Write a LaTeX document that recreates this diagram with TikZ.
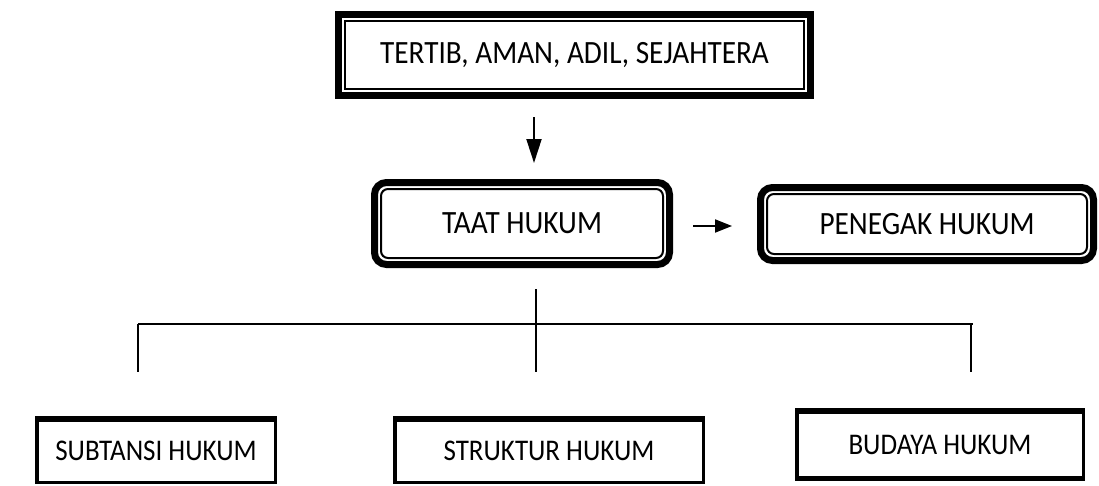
\documentclass[tikz,border=0pt]{standalone}
\usepackage{fontspec}
\setmainfont{Carlito}
\newfontfamily\narrowfont[FakeStretch=0.9]{Carlito}
\usetikzlibrary{arrows.meta}
\begin{document}
\begin{tikzpicture}[x=1pt,y=-1pt,
  label text/.style={font=\narrowfont\fontsize{32.5}{35}\selectfont, inner sep=0pt, outer sep=0pt},
  frame/.style={label text, draw, line width=7pt},
  roundframe/.style={frame, rounded corners=12pt},
  plainbox/.style={label text, font=\narrowfont\fontsize{30}{33}\selectfont, draw, line width=3.5pt},
  thinline/.style={line width=2pt},
  topedge/.style={line width=5.5pt},
  arrow/.style={line width=2pt, -{Triangle[width=15pt,length=24pt]}},
  branch/.style={line width=1.8pt}]
\useasboundingbox (0,0) rectangle (1099,485);

% goal box with double border
\node[frame, minimum width=472pt, minimum height=81pt] (goal) at (574.5,55) {TERTIB, AMAN, ADIL, SEJAHTERA};
\draw[thinline] ([shift={(6.5,6.5)}]goal.north west) rectangle ([shift={(-6.5,-6.5)}]goal.south east);

% obedience and enforcement boxes
\node[roundframe, minimum width=295pt, minimum height=82pt] (taat) at (522,223.5) {TAAT HUKUM};
\draw[thinline, rounded corners=7pt] ([shift={(6.5,6.5)}]taat.north west) rectangle ([shift={(-6.5,-6.5)}]taat.south east);

\node[roundframe, minimum width=333pt, minimum height=73pt] (penegak) at (927,224) {PENEGAK HUKUM};
\draw[thinline, rounded corners=7pt] ([shift={(6.5,6.5)}]penegak.north west) rectangle ([shift={(-6.5,-6.5)}]penegak.south east);

% arrows
\coordinate (a1) at (534,117);
\coordinate (a2) at (534,163);
\draw[arrow] (a1) -- (a2);
\coordinate (b1) at (693,226);
\coordinate (b2) at (732,226);
\draw[arrow, -{Triangle[width=13pt,length=17pt]}] (b1) -- (b2);

% three components
\node[plainbox, minimum width=238.5pt, minimum height=63.5pt] (subtansi) at (156,450.5) {SUBTANSI HUKUM};
\node[plainbox, minimum width=308.5pt, minimum height=63.5pt] (struktur) at (549,450.5) {STRUKTUR HUKUM};
\node[plainbox, minimum width=286.5pt, minimum height=67.5pt] (budaya) at (940,444.5) {BUDAYA HUKUM};
\foreach \b in {subtansi,struktur,budaya}
  \draw[topedge] ([xshift=-1.75pt]\b.north west) -- ([xshift=1.75pt]\b.north east);
\draw[topedge] ([xshift=-1.75pt]budaya.south west) -- ([xshift=1.75pt]budaya.south east);

% branching lines
\coordinate (stem) at (536,289);
\coordinate (hub) at (536,324);
\coordinate (left) at (138,324);
\coordinate (right) at (973,324);
\coordinate (dl) at (138,372);
\coordinate (dm) at (536,372);
\coordinate (dr) at (971,372);
\draw[branch] (stem) -- (hub);
\draw[branch] (left) -- (right);
\draw[branch] (left) -- (dl);
\draw[branch] (hub) -- (dm);
\draw[branch] (971,324) -- (dr);
\end{tikzpicture}
\end{document}
